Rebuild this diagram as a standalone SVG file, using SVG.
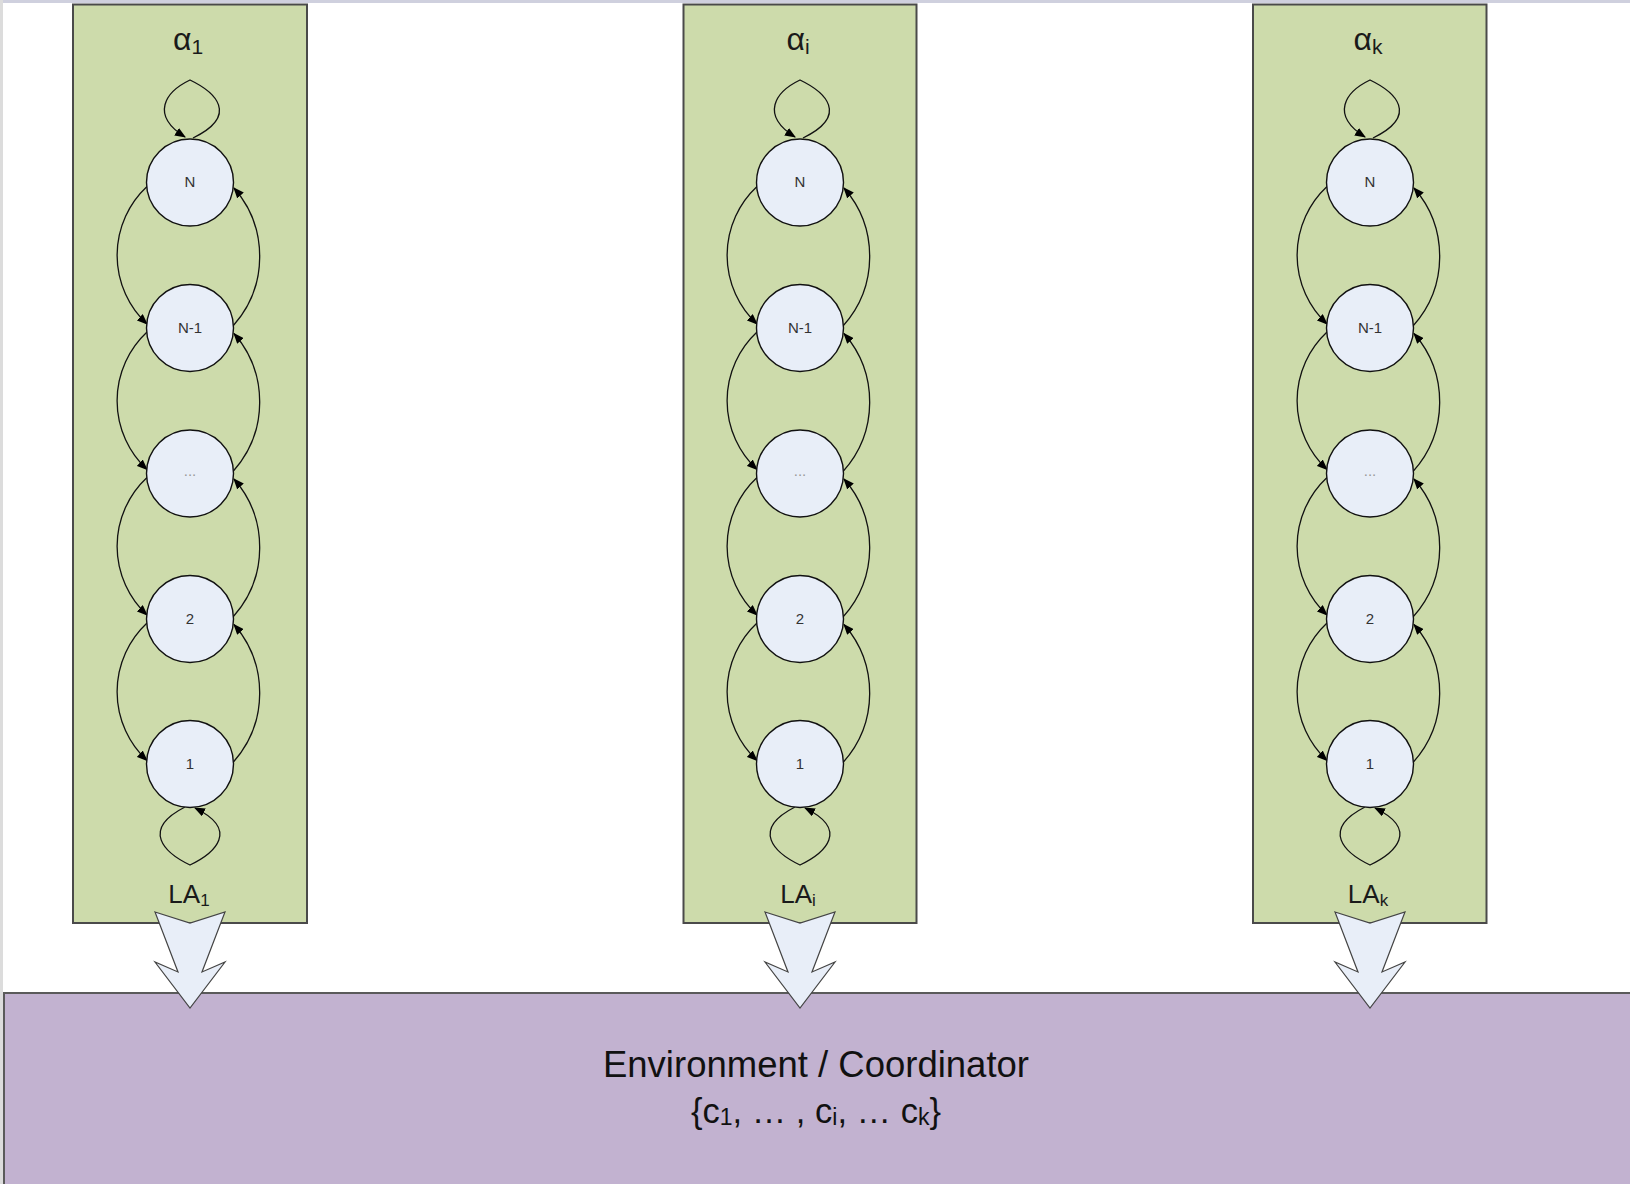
<svg xmlns="http://www.w3.org/2000/svg" width="1630" height="1184" viewBox="0 0 1630 1184">
  <style>
    .lane { fill: #cddbab; stroke: #4a4a4a; stroke-width: 2; }
    .state { fill: #e8eef8; stroke: #111; stroke-width: 1.4; }
    .slabel { font-family: "Liberation Sans", Arial, sans-serif; font-size: 15px; fill: #333; text-anchor: middle; }
    .dots { fill: #999; }
    .title { font-family: "Liberation Sans", Arial, sans-serif; fill: #1a1a1a; text-anchor: middle; }
    .edge { fill: none; stroke: #111; stroke-width: 1.3; marker-end: url(#head); }
    .out { fill: #e8eef8; stroke: #444; stroke-width: 1.2; stroke-linejoin: miter; }
    .env { fill: #c2b2d0; stroke: #5a5a5a; stroke-width: 2; }
    .envtext { font-family: "Liberation Sans", Arial, sans-serif; fill: #111; text-anchor: middle; }
  </style>
  <defs>
    <marker id="head" viewBox="0 0 10 8" refX="9" refY="4" markerWidth="11" markerHeight="9" markerUnits="userSpaceOnUse" orient="auto">
      <path d="M0,0 L10,4 L0,8 Z" fill="#000"/>
    </marker>

    <!-- one automaton column, centred on x = 0 -->
    <g id="column">
      <!-- self loops on the end states -->
      <path class="edge" d="M3,138 C50,115 25,92 0,80 C-25,92 -40,115 -5,137"/>
      <path class="edge" d="M-5,807 C-50,830 -25,853 0,865 C25,853 50,830 5,808"/>
      <!-- down / up transitions between neighbouring states -->
      <path class="edge" d="M-43,186.5 A94 94 0 0 0 -43,324"/>
      <path class="edge" d="M43,326 A104 104 0 0 0 44,188"/>
      <path class="edge" d="M-43,332 A94 94 0 0 0 -43,469.5"/>
      <path class="edge" d="M43,471.5 A104 104 0 0 0 44,333.5"/>
      <path class="edge" d="M-43,477.5 A94 94 0 0 0 -43,615"/>
      <path class="edge" d="M43,617 A104 104 0 0 0 44,479"/>
      <path class="edge" d="M-43,623 A94 94 0 0 0 -43,760.5"/>
      <path class="edge" d="M43,762.5 A104 104 0 0 0 44,624.5"/>
      <!-- states -->
      <circle class="state" cx="0" cy="182.5" r="43.5"/>
      <circle class="state" cx="0" cy="328" r="43.5"/>
      <circle class="state" cx="0" cy="473.5" r="43.5"/>
      <circle class="state" cx="0" cy="619" r="43.5"/>
      <circle class="state" cx="0" cy="764" r="43.5"/>
      <text class="slabel" x="0" y="187">N</text>
      <text class="slabel" x="0" y="332.5">N-1</text>
      <text class="slabel dots" x="0" y="476">...</text>
      <text class="slabel" x="0" y="623.5">2</text>
      <text class="slabel" x="0" y="768.5">1</text>
    </g>

    <!-- output arrow from an automaton into the environment -->
    <polygon id="outArrow" class="out" points="-35,912 0,923 35,912 12,972 35,962 0,1008 -35,962 -12,972"/>
  </defs>

  <!-- page edges -->
  <rect x="0" y="0" width="1630" height="1184" fill="#fff"/>
  <rect x="0" y="0" width="1630" height="3" fill="#cfd0de"/>
  <rect x="0" y="0" width="3" height="1184" fill="#dcdcdc"/>

  <!-- environment / coordinator -->
  <g id="environment">
    <rect class="env" x="4" y="993" width="1630" height="200"/>
    <text class="envtext" x="816" y="1077" font-size="36.5">Environment / Coordinator</text>
    <text class="envtext" x="816" y="1123" font-size="34.5">{c<tspan font-size="23" dy="2">1</tspan><tspan dy="-2">, … , c</tspan><tspan font-size="23" dy="2">i</tspan><tspan dy="-2">, … c</tspan><tspan font-size="23" dy="2">k</tspan><tspan dy="-2">}</tspan></text>
  </g>

  <!-- learning automaton 1 -->
  <g id="la1">
    <rect class="lane" x="73" y="4.5" width="234" height="918.5"/>
    <text class="title" x="188" y="50" font-size="32">α<tspan font-size="21" dy="4">1</tspan></text>
    <use href="#column" x="190"/>
    <text class="title" x="189" y="903" font-size="26">LA<tspan font-size="17" dy="3">1</tspan></text>
  </g>

  <!-- learning automaton i -->
  <g id="lai">
    <rect class="lane" x="683.5" y="4.5" width="233" height="918.5"/>
    <text class="title" x="798" y="50" font-size="32">α<tspan font-size="21" dy="4">i</tspan></text>
    <use href="#column" x="800"/>
    <text class="title" x="798" y="903" font-size="26">LA<tspan font-size="17" dy="3">i</tspan></text>
  </g>

  <!-- learning automaton k -->
  <g id="lak">
    <rect class="lane" x="1253" y="4.5" width="233.5" height="918.5"/>
    <text class="title" x="1368" y="50" font-size="32">α<tspan font-size="21" dy="4">k</tspan></text>
    <use href="#column" x="1370"/>
    <text class="title" x="1368" y="903" font-size="26">LA<tspan font-size="17" dy="3">k</tspan></text>
  </g>

  <!-- outputs feeding the environment -->
  <g id="connectors">
    <use href="#outArrow" x="190"/>
    <use href="#outArrow" x="800"/>
    <use href="#outArrow" x="1370"/>
  </g>
</svg>
